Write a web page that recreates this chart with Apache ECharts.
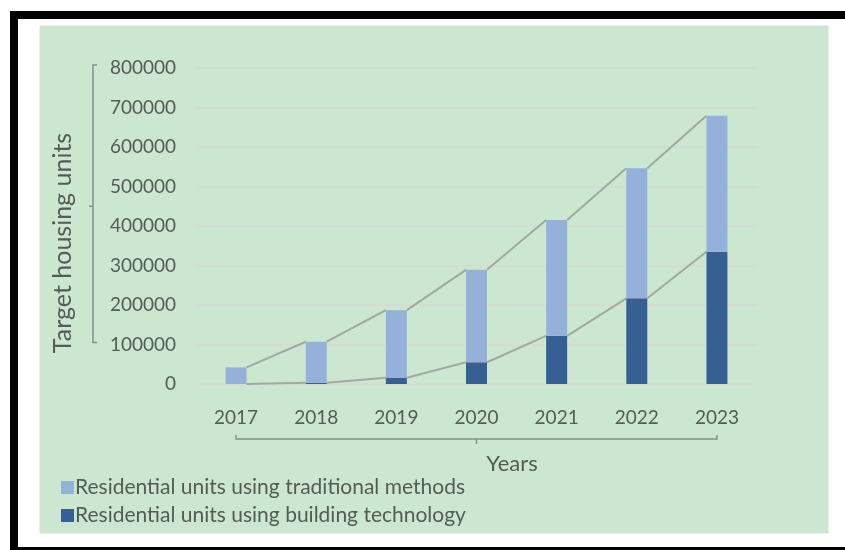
<!DOCTYPE html>
<html>
<head>
<meta charset="utf-8">
<title>Target housing units</title>
<script src="https://cdn.jsdelivr.net/npm/echarts@6/dist/echarts.min.js"></script>
<style>
  html, body { margin: 0; padding: 0; background: #ffffff; }
  #chart { width: 845px; height: 550px; }
</style>
</head>
<body>
<div id="chart"></div>
<script>
// Years on the category axis
const years = ['2017', '2018', '2019', '2020', '2021', '2022', '2023'];
// Units built with traditional methods (upper segment of each stack)
const traditionalUnits = [42000, 104000, 171000, 234000, 293000, 329000, 344000];
// Units built with building technology (lower segment of each stack)
const technologyUnits = [0, 3000, 16000, 55000, 122000, 217000, 335000];
// Value axis ticks
const yTicks = [0, 100000, 200000, 300000, 400000, 500000, 600000, 700000, 800000];

const seriesNames = [
  'Residential units using traditional methods',
  'Residential units using building technology'
];

const FONT = 'Lato, "Open Sans", sans-serif';
const TEXT = '#555b55';
const BAR_W = 21;

// Stack tops for the connector (series) lines
const techTops = technologyUnits.slice();
const totalTops = technologyUnits.map((v, i) => v + traditionalUnits[i]);

function connectorData(tops) {
  const out = [];
  for (let i = 0; i < tops.length - 1; i++) out.push([i, tops[i], tops[i + 1]]);
  return out;
}

function renderConnector(params, api) {
  const i = api.value(0);
  const a = api.coord([i, api.value(1)]);
  const b = api.coord([i + 1, api.value(2)]);
  return {
    type: 'line',
    shape: { x1: a[0] + BAR_W / 2, y1: a[1], x2: b[0] - BAR_W / 2, y2: b[1] },
    style: { stroke: '#a3a8a3', lineWidth: 2 },
    silent: true
  };
}

const chart = echarts.init(document.getElementById('chart'), null, { renderer: 'canvas' });

const option = {
  backgroundColor: '#ffffff',
  animation: false,
  textStyle: { fontFamily: FONT },
  grid: { left: 196, right: 88, top: 68, bottom: 166, containLabel: false },
  legend: {
    data: seriesNames,
    orient: 'vertical',
    left: 56,
    top: 472,
    itemWidth: 13,
    itemHeight: 13,
    itemGap: 7,
    icon: 'rect',
    textStyle: { fontFamily: FONT, fontSize: 21, color: TEXT, padding: [0, 0, 0, -4] }
  },
  xAxis: {
    type: 'category',
    data: years,
    axisLine: { show: false },
    axisTick: { show: false },
    axisLabel: { fontFamily: FONT, fontSize: 19, color: TEXT, margin: 24 }
  },
  yAxis: {
    type: 'value',
    min: yTicks[0],
    max: yTicks[yTicks.length - 1],
    interval: yTicks[1] - yTicks[0],
    axisLine: { show: false },
    axisTick: { show: false },
    axisLabel: { fontFamily: FONT, fontSize: 19, color: TEXT, margin: 20, formatter: v => String(v) },
    splitLine: { lineStyle: { color: '#d7dcd3', width: 2 } }
  },
  graphic: [],
  series: [
    {
      name: seriesNames[1],
      type: 'bar',
      stack: 'units',
      data: technologyUnits,
      barWidth: BAR_W,
      itemStyle: { color: '#365f93' },
      z: 3
    },
    {
      name: seriesNames[0],
      type: 'bar',
      stack: 'units',
      data: traditionalUnits,
      barWidth: BAR_W,
      itemStyle: { color: '#93b1d9' },
      z: 3
    },
    {
      type: 'custom',
      renderItem: renderConnector,
      data: connectorData(totalTops),
      z: 2,
      silent: true
    },
    {
      type: 'custom',
      renderItem: renderConnector,
      data: connectorData(techTops),
      z: 2,
      silent: true
    }
  ]
};

chart.setOption(option);

// Frame, panel, titles and group brackets placed relative to the axes
function px(cat, val) { return chart.convertToPixel({ gridIndex: 0 }, [cat, val]); }
const top800 = px(0, 800000)[1];
const y100 = px(0, 100000)[1];
const yMid = (top800 + y100) / 2;
const x2017 = px(0, 0)[0];
const x2023 = px(6, 0)[0];
const xMid = (x2017 + x2023) / 2;
const yZero = px(0, 0)[1];
const bracketY = yZero + 55;
const bracketX = 196 - 103;
const gray = '#8a8f8a';

chart.setOption({
  graphic: [
    { type: 'rect', z: -10, shape: { x: 40, y: 26, width: 788, height: 507 },
      style: { fill: '#cce7cf', stroke: '#d9dcd9', lineWidth: 1 } },
    { type: 'rect', z: 50, shape: { x: 10, y: 11, width: 835, height: 8 }, style: { fill: '#000' } },
    { type: 'rect', z: 50, shape: { x: 10, y: 11, width: 8, height: 539 }, style: { fill: '#000' } },
    { type: 'rect', z: 50, shape: { x: 10, y: 547, width: 835, height: 3 }, style: { fill: '#000' } },
    // value-axis bracket
    { type: 'polyline', z: 5, shape: { points: [[bracketX + 4, top800 - 3], [bracketX, top800 - 3], [bracketX, y100 - 2], [bracketX + 4, y100 - 2]] },
      style: { stroke: gray, lineWidth: 1.5, fill: null } },
    { type: 'line', z: 5, shape: { x1: bracketX - 4, y1: yMid, x2: bracketX, y2: yMid }, style: { stroke: gray, lineWidth: 1.5 } },
    // category-axis bracket
    { type: 'polyline', z: 5, shape: { points: [[x2017, bracketY - 4], [x2017, bracketY], [x2023, bracketY], [x2023, bracketY - 4]] },
      style: { stroke: gray, lineWidth: 1.5, fill: null } },
    { type: 'line', z: 5, shape: { x1: xMid, y1: bracketY, x2: xMid, y2: bracketY + 5 }, style: { stroke: gray, lineWidth: 1.5 } },
    // axis titles
    { type: 'text', z: 5, x: 63, y: 243, rotation: Math.PI / 2,
      style: { text: 'Target housing units', font: '25px ' + FONT, fill: TEXT, align: 'center', verticalAlign: 'middle' } },
    { type: 'text', z: 5, x: 512, y: 464,
      style: { text: 'Years', font: '22px ' + FONT, fill: TEXT, align: 'center', verticalAlign: 'middle' } }
  ]
});
</script>
</body>
</html>
